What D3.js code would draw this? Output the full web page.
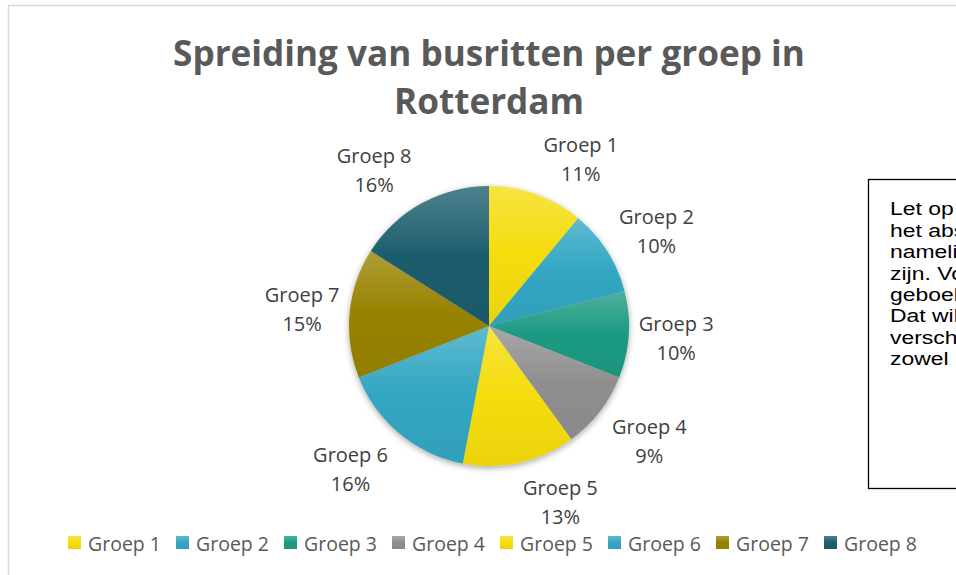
<!DOCTYPE html>
<html>
<head>
<meta charset="utf-8">
<script src="https://cdn.jsdelivr.net/npm/d3@7"></script>
<style>
  body { margin: 0; background: #fff; overflow: hidden; }
  svg { display: block; }
</style>
</head>
<body>
<div class="svgContainer"></div>
<script>
// chart data
const groups = ['Groep 1', 'Groep 2', 'Groep 3', 'Groep 4', 'Groep 5', 'Groep 6', 'Groep 7', 'Groep 8'];
const shares = [11, 10, 10, 9, 13, 16, 15, 16];
const sliceColors = ['#f5dc0c', '#32a6c2', '#1d9a82', '#8f8f8f', '#f5dc0c', '#32a6c2', '#978200', '#1c5d6d'];
const titleLines = ['Spreiding van busritten per groep in', 'Rotterdam'];
const noteLines = ['Let op dat', 'het absolute', 'namelijk', 'zijn. Voor', 'geboekt.', 'Dat wil', 'verschillen', 'zowel'];

const width = 956;
const height = 575;
const cx = 489;
const cy = 326;
const radius = 140;

const svg = d3.select('.svgContainer').append('svg')
  .attr('width', width)
  .attr('height', height);

const defs = svg.append('defs');

// soft shadow under the pie
const shadow = defs.append('filter')
  .attr('id', 'pieShadow')
  .attr('x', '-20%').attr('y', '-20%')
  .attr('width', '140%').attr('height', '140%');
shadow.append('feDropShadow')
  .attr('dx', 0).attr('dy', 2)
  .attr('stdDeviation', 3)
  .attr('flood-color', '#000')
  .attr('flood-opacity', 0.35);

// vertical gradient per slice, lighter at the top
sliceColors.forEach((c, i) => {
  const g = defs.append('linearGradient')
    .attr('id', 'grad' + i)
    .attr('x1', 0).attr('y1', 0).attr('x2', 0).attr('y2', 1);
  g.append('stop').attr('offset', '0%').attr('stop-color', d3.interpolateRgb(c, '#ffffff')(0.22));
  g.append('stop').attr('offset', '50%').attr('stop-color', c);
  g.append('stop').attr('offset', '100%').attr('stop-color', d3.interpolateRgb(c, '#000000')(0.04));
});

// chart area border (runs off the page right and bottom)
svg.append('rect')
  .attr('x', 8.5).attr('y', 5.5)
  .attr('width', 980).attr('height', 600)
  .attr('fill', '#fff')
  .attr('stroke', '#d9d9d9')
  .attr('stroke-width', 1.5);

// title
const title = svg.append('g').attr('class', 'title');
titleLines.forEach((t, i) => {
  title.append('text')
    .attr('x', cx)
    .attr('y', 66 + i * 48)
    .attr('text-anchor', 'middle')
    .attr('font-family', 'Open Sans')
    .attr('font-weight', 'bold')
    .attr('font-size', 32)
    .attr('fill', '#595959')
    .text(t);
});
// size the title to the measured width of the first line
const firstLine = title.select('text').node();
const titleSize = 32 * 632 / firstLine.getComputedTextLength();
title.selectAll('text').attr('font-size', titleSize);

// pie
const pie = d3.pie().sort(null).value(d => d)(shares);
const arc = d3.arc().innerRadius(0).outerRadius(radius);
const total = d3.sum(shares);
const pct = d3.format('.0%');

const body = svg.append('g')
  .attr('class', 'body')
  .attr('transform', 'translate(' + cx + ',' + cy + ')');

body.append('g')
  .attr('filter', 'url(#pieShadow)')
  .selectAll('path.slice')
  .data(pie)
  .enter()
  .append('path')
  .attr('class', 'slice')
  .attr('d', arc)
  .attr('fill', (d, i) => 'url(#grad' + i + ')');

// data labels placed just outside each slice ("best fit"-like)
const labels = body.selectAll('g.label')
  .data(pie)
  .enter()
  .append('g')
  .attr('class', 'label');

labels.append('text')
  .attr('y', -14.5)
  .text((d, i) => groups[i]);
labels.append('text')
  .attr('y', 14.5)
  .text(d => pct(d.value / total));

labels.selectAll('text')
  .attr('text-anchor', 'middle')
  .attr('dominant-baseline', 'central')
  .attr('font-family', 'Open Sans')
  .attr('font-size', 20)
  .attr('fill', '#404040');

labels.attr('transform', function (d) {
  const a = (d.startAngle + d.endAngle) / 2;
  const dx = Math.sin(a);
  const dy = -Math.cos(a);
  const box = this.getBBox();
  const r = radius + 10;
  const x = dx * r + dx * box.width / 2 + Math.sign(dx) * 32 * dy * dy;
  const y = dy * r + dy * box.height / 2 + Math.max(0, dy) * Math.abs(dx) * 12;
  return 'translate(' + x + ',' + y + ')';
});

// legend
const legendStep = 108;
const legend = svg.append('g')
  .attr('class', 'legend')
  .attr('transform', 'translate(' + (cx - legendStep * groups.length / 2 + 11) + ',536)');

const item = legend.selectAll('g.item')
  .data(groups)
  .enter()
  .append('g')
  .attr('class', 'item')
  .attr('transform', (d, i) => 'translate(' + i * legendStep + ',0)');

item.append('rect')
  .attr('width', 13)
  .attr('height', 13)
  .attr('fill', (d, i) => 'url(#grad' + i + ')');

item.append('text')
  .attr('x', 20)
  .attr('y', 7)
  .attr('dominant-baseline', 'central')
  .attr('font-family', 'Open Sans')
  .attr('font-size', 19.5)
  .attr('fill', '#595959')
  .text(d => d);

// note box on the right, cut off by the page edge
svg.append('rect')
  .attr('x', 868.5).attr('y', 179.5)
  .attr('width', 200).attr('height', 309)
  .attr('fill', '#fff')
  .attr('stroke', '#000')
  .attr('stroke-width', 1.3);

svg.append('g')
  .attr('class', 'note')
  .attr('transform', 'translate(890,0) scale(1.24,1)')
  .selectAll('text')
  .data(noteLines)
  .enter()
  .append('text')
  .attr('x', 0)
  .attr('y', (d, i) => 215.5 + i * 21.4)
  .attr('font-family', 'Liberation Sans')
  .attr('font-size', 18.5)
  .attr('fill', '#000')
  .text(d => d);
</script>
</body>
</html>
